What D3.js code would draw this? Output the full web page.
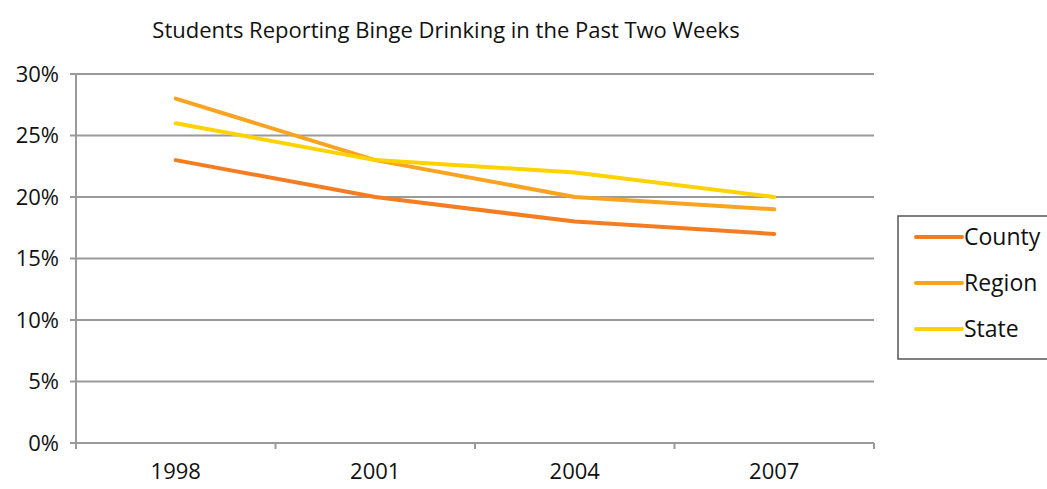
<!DOCTYPE html>
<html>
<head>
<meta charset="utf-8">
<script src="https://cdn.jsdelivr.net/npm/d3@7"></script>
<style>
  body { margin: 0; background: #fff; }
  text { font-family: "Open Sans", "Noto Sans", sans-serif; fill: #111; }
</style>
</head>
<body>
<div id="chart"></div>
<script>
const years = ["1998", "2001", "2004", "2007"];
const county = [23, 20, 18, 17];
const region = [28, 23, 20, 19];
const state = [26, 23, 22, 20];
const seriesNames = ["County", "Region", "State"];
const seriesColors = ["#f47d22", "#f9a31e", "#ffd200"];
const yTicks = [0, 5, 10, 15, 20, 25, 30];

const W = 1047, H = 489;
const margin = {top: 74, right: 173, bottom: 46, left: 76};
const width = W - margin.left - margin.right;
const height = H - margin.top - margin.bottom;

const svg = d3.select("#chart").append("svg")
    .attr("width", W)
    .attr("height", H);

svg.append("text")
    .attr("x", 446)
    .attr("y", 38)
    .attr("text-anchor", "middle")
    .style("font-size", "22px")
    .text("Students Reporting Binge Drinking in the Past Two Weeks");

const g = svg.append("g")
    .attr("transform", `translate(${margin.left},${margin.top})`);

const x = d3.scaleBand().domain(years).range([0, width]).padding(0);
const y = d3.scaleLinear().domain([0, 30]).range([height, 0]);

// gridlines
g.selectAll(".grid")
  .data(yTicks)
  .enter().append("line")
    .attr("x1", -6)
    .attr("x2", width)
    .attr("y1", d => y(d))
    .attr("y2", d => y(d))
    .attr("stroke", "#9a9a9a")
    .attr("stroke-width", 2);

// y axis
g.append("line")
    .attr("x1", 0).attr("x2", 0)
    .attr("y1", 0).attr("y2", height + 6)
    .attr("stroke", "#9a9a9a")
    .attr("stroke-width", 2);

g.selectAll(".ylab")
  .data(yTicks)
  .enter().append("text")
    .attr("x", -17)
    .attr("y", d => y(d))
    .attr("dy", "0.35em")
    .attr("text-anchor", "end")
    .style("font-size", "22px")
    .text(d => d + "%");

// x ticks at band edges
const edges = years.map(d => x(d)).concat([width]);
g.selectAll(".xtick")
  .data(edges)
  .enter().append("line")
    .attr("x1", d => d).attr("x2", d => d)
    .attr("y1", height).attr("y2", height + 6)
    .attr("stroke", "#9a9a9a")
    .attr("stroke-width", 2);

g.selectAll(".xlab")
  .data(years)
  .enter().append("text")
    .attr("x", d => x(d) + x.bandwidth() / 2)
    .attr("y", height + 36)
    .attr("text-anchor", "middle")
    .style("font-size", "22px")
    .text(d => d);

// lines
const series = [county, region, state];
const line = d3.line()
    .x((d, i) => x(years[i]) + x.bandwidth() / 2)
    .y(d => y(d));

g.selectAll(".series")
  .data(series)
  .enter().append("path")
    .attr("d", line)
    .attr("fill", "none")
    .attr("stroke", (d, i) => seriesColors[i])
    .attr("stroke-width", 4)
    .attr("stroke-linecap", "round")
    .attr("stroke-linejoin", "round");

// legend
const legend = svg.append("g").attr("transform", "translate(898,216)");
legend.append("rect")
    .attr("x", 0).attr("y", 0)
    .attr("width", 160).attr("height", 143)
    .attr("fill", "#fff")
    .attr("stroke", "#555")
    .attr("stroke-width", 1.5);

const items = legend.selectAll(".item")
  .data(seriesNames)
  .enter().append("g")
    .attr("transform", (d, i) => `translate(0,${21 + i * 46})`);

items.append("line")
    .attr("x1", 18).attr("x2", 64)
    .attr("y1", 0).attr("y2", 0)
    .attr("stroke", (d, i) => seriesColors[i])
    .attr("stroke-width", 4)
    .attr("stroke-linecap", "round");

items.append("text")
    .attr("x", 66)
    .attr("y", 0)
    .attr("dy", "0.35em")
    .style("font-size", "23px")
    .text(d => d);
</script>
</body>
</html>
